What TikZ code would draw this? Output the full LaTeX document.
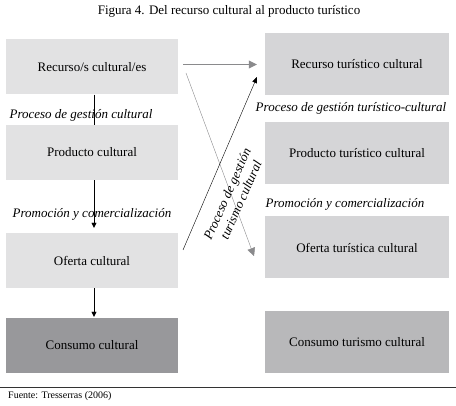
\documentclass[tikz,border=0pt]{standalone}
\usepackage{fontspec}
\setmainfont{Liberation Serif}
\usetikzlibrary{arrows.meta,positioning}

\definecolor{boxL}{HTML}{E2E2E3}
\definecolor{boxLd}{HTML}{98989B}
\definecolor{boxR}{HTML}{D5D5D7}
\definecolor{boxRd}{HTML}{B8B8BA}
\definecolor{arrG}{HTML}{8A8A8C}

\begin{document}
\begin{tikzpicture}[x=1pt, y=-1pt, >=Triangle,
  box/.style={inner sep=0pt, font=\fontsize{13}{15}\selectfont},
  lbox/.style={box, fill=boxL, minimum width=172pt, minimum height=55pt},
  rbox/.style={box, fill=boxR, minimum width=184pt, minimum height=62pt},
  lab/.style={inner sep=0pt, font=\fontsize{13}{15}\selectfont\itshape}]

\useasboundingbox (0,0) rectangle (456,406);

% title
\node[inner sep=0pt, font=\fontsize{13}{15}\selectfont] (title) at (229,11)
  {Figura 4. Del recurso cultural al producto turístico};

% left column
\node[lbox] (rc) at (92,67) {Recurso/s cultural/es};
\node[lbox] (pc) at (92,152.5) {Producto cultural};
\node[lbox] (oc) at (92,260.5) {Oferta cultural};
\node[lbox, fill=boxLd] (cc) at (92,345.5) {Consumo cultural};

% right column
\node[rbox] (rt) at (357,64) {Recurso turístico cultural};
\node[rbox] (pt) at (357,153.5) {Producto turístico cultural};
\node[rbox] (ot) at (357,247.5) {Oferta turística cultural};
\node[rbox, fill=boxRd] (ct) at (357,342) {Consumo turismo cultural};

% left chain
\draw ([xshift=2pt]rc.south) -- ([xshift=2pt]pc.north);
\draw[->, >={Triangle[length=5pt, width=5pt]}]
  ([xshift=2pt]pc.south) -- ([xshift=2pt, yshift=5pt]oc.north);
\draw[->, >={Triangle[length=5pt, width=5pt]}]
  ([xshift=2pt]oc.south) -- ([xshift=2pt, yshift=1pt]cc.north);

\node[lab] (l1) at (81,115) {Proceso de gestión cultural};
\node[lab] (l2) at (92,214) {Promoción y comercialización};
\node[lab] (r1) at (351,108) {Proceso de gestión turístico-cultural};
\node[lab] (r2) at (345,204) {Promoción y comercialización};

% crossing arrows
\coordinate (gA) at (186,73);
\coordinate (gB) at (254,256);
\coordinate (kA) at (183,250);
\coordinate (kB) at (257,77);

\draw[arrG, ->, >={Triangle[length=8pt, width=8pt]}]
  ([xshift=5pt, yshift=2.5pt]rc.east) -- ([xshift=-8pt, yshift=-0.5pt]rt.west);
\draw[arrG, ->, >={Triangle[length=8pt, width=8pt]}] (gA) -- (gB);
\draw[->, >={Triangle[length=6pt, width=5pt]}] (kA) -- (kB);

\node[lab, rotate=66, align=center, font=\fontsize{13}{15}\selectfont\itshape]
  (mid) at (234,197) {Proceso de gestión\\turismo cultural};

% source
\draw[line width=0.8pt, black!80] (0,387) -- (456,387);
\node[inner sep=0pt, anchor=west, font=\fontsize{10}{12}\selectfont]
  (src) at (8,396) {Fuente: Tresserras (2006)};

\end{tikzpicture}
\end{document}
